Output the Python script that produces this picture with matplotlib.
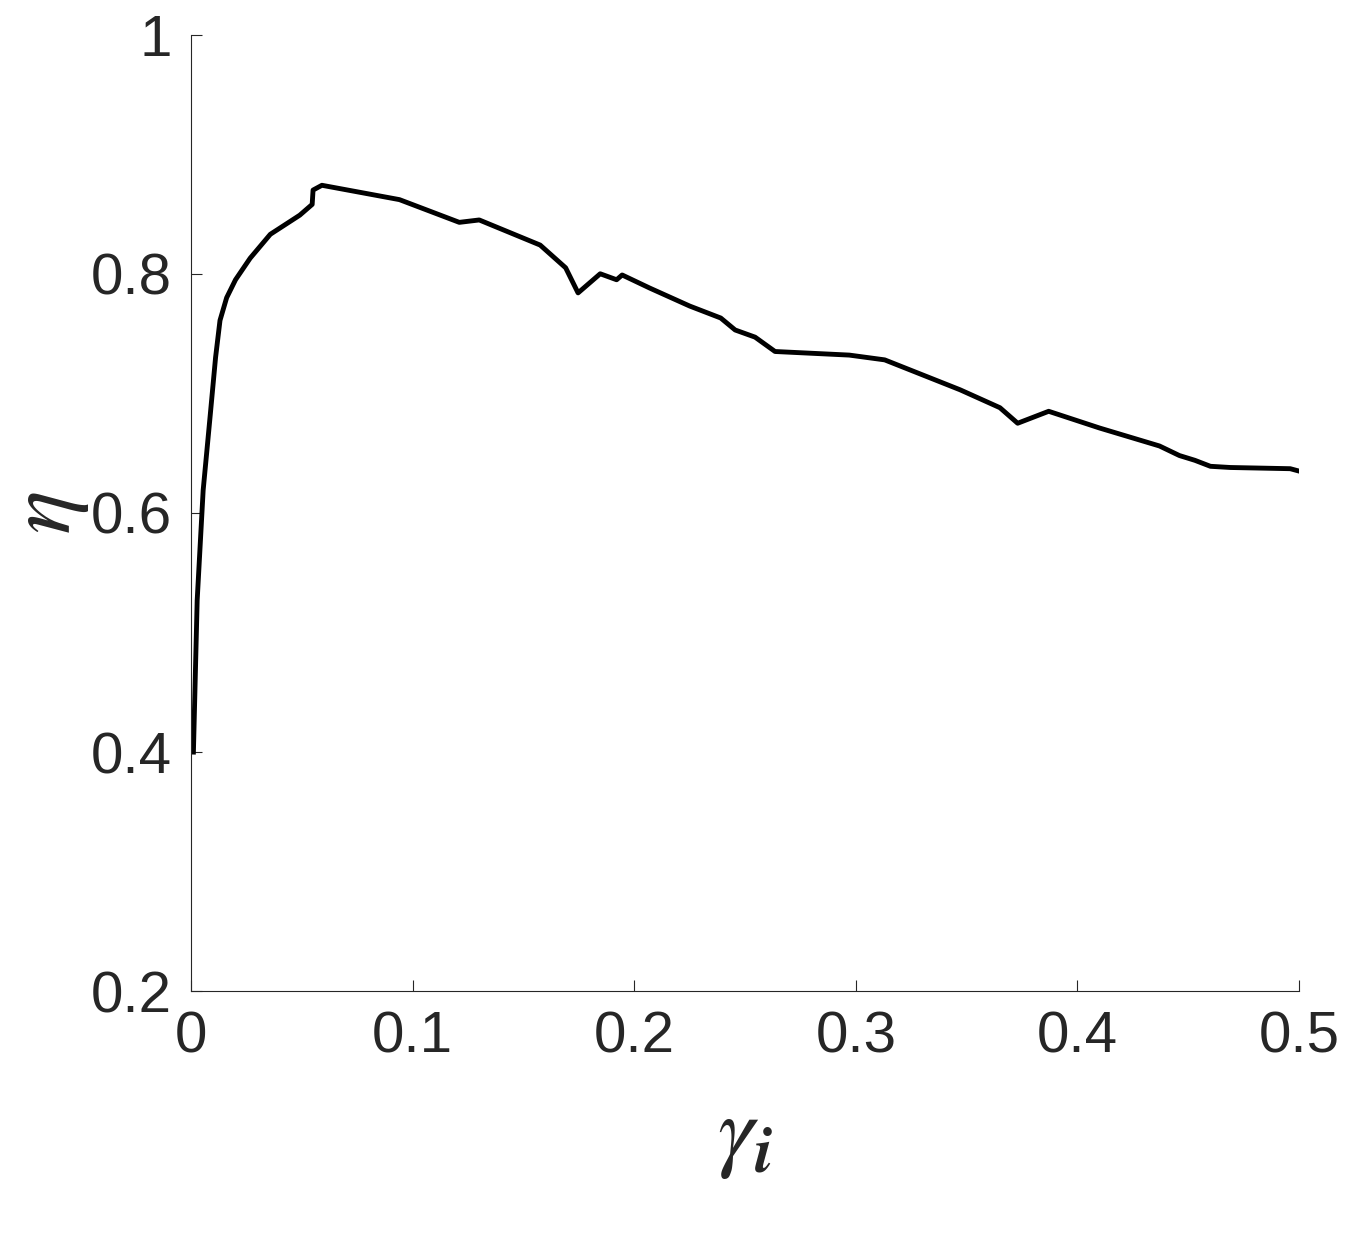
import matplotlib
matplotlib.use("Agg")
import matplotlib.pyplot as plt
plt.rcParams['mathtext.fontset'] = 'stix'
plt.rcParams['font.family'] = ['Liberation Sans', 'DejaVu Sans']

gamma = [0.001,0.0027,0.0054,0.0086,0.011,0.013,0.016,0.020,0.0266,0.0357,0.049,0.0546,0.055,0.059,0.094,0.121,0.130,0.1575,0.169,0.1746,0.1846,0.192,0.1945,0.207,0.225,0.239,0.2455,0.2545,0.2635,0.297,0.313,0.347,0.365,0.373,0.387,0.410,0.437,0.446,0.453,0.46,0.469,0.496,0.5]
eta = [0.4,0.527,0.619,0.682,0.730,0.761,0.780,0.795,0.813,0.833,0.849,0.858,0.870,0.874,0.862,0.843,0.845,0.824,0.805,0.784,0.800,0.795,0.799,0.788,0.773,0.763,0.753,0.747,0.735,0.732,0.728,0.703,0.688,0.675,0.685,0.671,0.656,0.648,0.644,0.639,0.638,0.637,0.635]
xticks = [0,0.1,0.2,0.3,0.4,0.5]
yticks = [0.2,0.4,0.6,0.8,1.0]
xticklabels = ["0","0.1","0.2","0.3","0.4","0.5"]
yticklabels = ["0.2","0.4","0.6","0.8","1"]

fig = plt.figure(figsize=(13.56,12.36), dpi=100)
ax = fig.add_axes([0.141,0.198,0.817,0.774])
ax.plot(gamma, eta, color="black", lw=3.5)
ax.set_xlim(0,0.5); ax.set_ylim(0.2,1)
ax.set_xticks(xticks); ax.set_xticklabels(xticklabels)
ax.set_yticks(yticks); ax.set_yticklabels(yticklabels)
ax.tick_params(direction="in", labelsize=42, length=8, colors="#262626", pad=14)
for s in ["top","right"]:
    ax.spines[s].set_visible(False)
for s in ["left","bottom"]:
    ax.spines[s].set_color("#262626")
ax.set_xlabel(r"$\gamma_{\boldsymbol{i}}$", fontsize=66, labelpad=22, color="#262626")
ax.set_ylabel(r"$\eta$", fontsize=66, labelpad=0, color="#262626")
fig.savefig("out.png", dpi=100)
